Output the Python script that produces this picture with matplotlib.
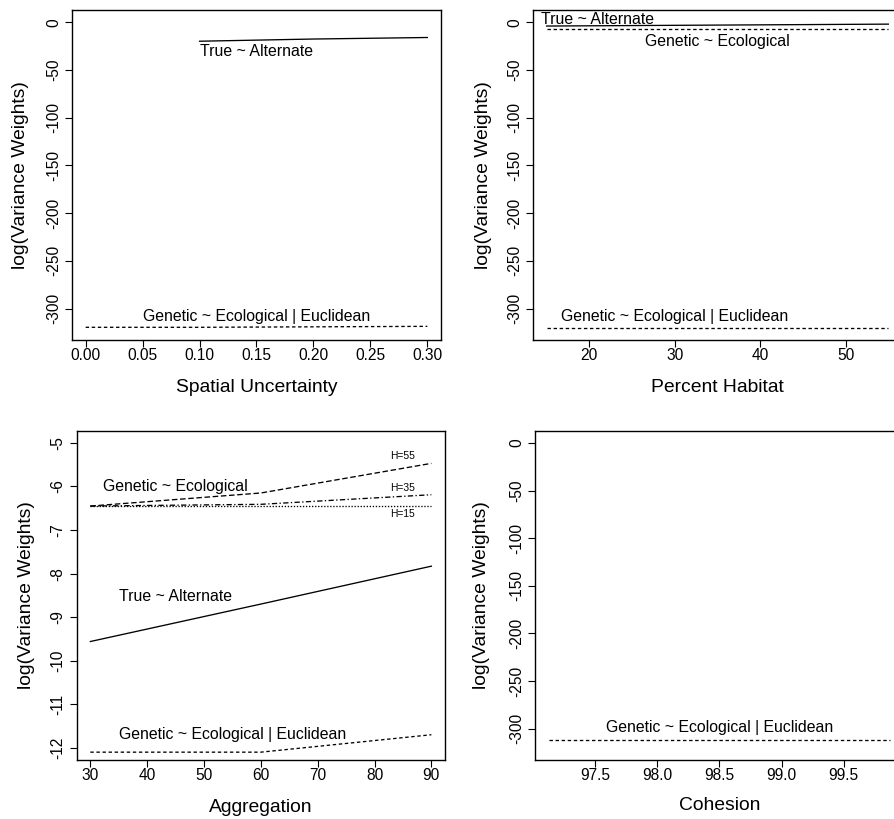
import matplotlib
matplotlib.use("Agg")
import matplotlib.pyplot as plt
import matplotlib.ticker as mticker

plt.rcParams['font.family'] = ['Liberation Sans', 'DejaVu Sans']
plt.rcParams['axes.unicode_minus'] = False

# ---------------- data ----------------
# Panel 1: Spatial Uncertainty
su_x_true = [0.10, 0.20, 0.30]
su_y_true = [-19.9, -17.6, -16.0]
su_x_euc = [0.00, 0.10, 0.20, 0.30]
su_y_euc = [-319.5, -319.5, -319.0, -318.5]

# Panel 2: Percent Habitat
ph_x = [15, 35, 55]
ph_y_true = [-4.0, -3.0, -2.0]
ph_y_gen = [-7.6, -7.6, -7.6]
ph_y_euc = [-320.2, -320.2, -320.2]

# Panel 3: Aggregation
ag_x = [30, 60, 90]
ag_y_h55 = [-6.45, -6.15, -5.47]
ag_y_h35 = [-6.45, -6.41, -6.19]
ag_y_h15 = [-6.46, -6.46, -6.46]
ag_y_true = [-9.56, -8.70, -7.83]
ag_y_euc = [-12.10, -12.10, -11.70]

# Panel 4: Cohesion
co_x = [97.127, 99.875]
co_y_euc = [-311.5, -311.5]

su_ticks = [0.00, 0.05, 0.10, 0.15, 0.20, 0.25, 0.30]
ph_ticks = [20, 30, 40, 50]
ag_ticks = [30, 40, 50, 60, 70, 80, 90]
co_ticks = [97.5, 98.0, 98.5, 99.0, 99.5]
big_yticks = [0, -50, -100, -150, -200, -250, -300]
ag_yticks = [-5, -6, -7, -8, -9, -10, -11, -12]

# ---------------- figure ----------------
W, H = 895, 819
fig = plt.figure(figsize=(W / 100, H / 100), dpi=100)

TICK = 11.2
LAB = 13.9
ANN = 11.4
SMALL = 7.4
LW = 0.95


def add_ax(left, top, w, h):
    ax = fig.add_axes([left / W, 1 - (top + h) / H, w / W, h / H])
    for sp in ax.spines.values():
        sp.set_linewidth(1.0)
        sp.set_color('black')
    ax.tick_params(direction='out', length=5, width=0.8, labelsize=TICK,
                   colors='black')
    ax.tick_params(axis='x', pad=1)
    ax.tick_params(axis='y', pad=3)
    return ax


def style_y(ax):
    for lab in ax.get_yticklabels():
        lab.set_rotation(90)
        lab.set_va('center')
        lab.set_ha('right')


def labels(ax, xlabel, left, top, w, h, xlab_y, ylab_off=51):
    fig.text((left + w / 2) / W, 1 - xlab_y / H, xlabel, ha='center',
             va='center', fontsize=LAB)
    fig.text((left - ylab_off) / W, 1 - (top + h / 2) / H,
             'log(Variance Weights)', ha='center', va='center',
             rotation=90, fontsize=LAB)


dashed = (0, (2.6, 2.0))
longdash = (0, (4.2, 2.0))
dotdash = (0, (4.0, 1.8, 1.0, 1.8))
dotted = (0, (1.0, 1.3))

# Panel 1
l, t, w, h = 72, 10, 369, 330
ax1 = add_ax(l, t, w, h)
ax1.plot(su_x_true, su_y_true, color='black', lw=LW)
ax1.plot(su_x_euc, su_y_euc, color='black', lw=LW, linestyle=dashed)
ax1.set_xlim(-0.012, 0.312)
ax1.set_ylim(-332.8, 12.8)
ax1.set_xticks(su_ticks)
ax1.xaxis.set_major_formatter(mticker.FormatStrFormatter('%.2f'))
ax1.set_yticks(big_yticks)
style_y(ax1)
ax1.text(0.15, -31, 'True ~ Alternate', ha='center', va='center', fontsize=ANN)
ax1.text(0.15, -308, 'Genetic ~ Ecological | Euclidean', ha='center',
         va='center', fontsize=ANN)
labels(ax1, 'Spatial Uncertainty', l, t, w, h, 388)

# Panel 2
l, t, w, h = 533, 10, 369, 330
ax2 = add_ax(l, t, w, h)
ax2.plot(ph_x, ph_y_true, color='black', lw=LW)
ax2.plot(ph_x, ph_y_gen, color='black', lw=LW, linestyle=dashed)
ax2.plot(ph_x, ph_y_euc, color='black', lw=LW, linestyle=dashed)
ax2.set_xlim(13.4, 56.6)
ax2.set_ylim(-332.8, 12.8)
ax2.set_xticks(ph_ticks)
ax2.set_yticks(big_yticks)
style_y(ax2)
ax2.text(21.0, 3, 'True ~ Alternate', ha='center', va='center', fontsize=ANN)
ax2.text(35, -20, 'Genetic ~ Ecological', ha='center', va='center',
         fontsize=ANN)
ax2.text(30, -308, 'Genetic ~ Ecological | Euclidean', ha='center',
         va='center', fontsize=ANN)
labels(ax2, 'Percent Habitat', l, t, w, h, 388, ylab_off=50)

# Panel 3
l, t, w, h = 76.7, 430.7, 368.3, 329.3
ax3 = add_ax(l, t, w, h)
ax3.plot(ag_x, ag_y_h55, color='black', lw=LW, linestyle=longdash)
ax3.plot(ag_x, ag_y_h35, color='black', lw=LW, linestyle=dotdash)
ax3.plot(ag_x, ag_y_h15, color='black', lw=LW, linestyle=dotted)
ax3.plot(ag_x, ag_y_true, color='black', lw=LW)
ax3.plot(ag_x, ag_y_euc, color='black', lw=LW, linestyle=dashed)
ax3.set_xlim(27.6, 92.4)
ax3.set_ylim(-12.28, -4.72)
ax3.set_xticks(ag_ticks)
ax3.set_yticks(ag_yticks)
style_y(ax3)
ax3.text(45, -6.0, 'Genetic ~ Ecological', ha='center', va='center',
         fontsize=ANN)
ax3.text(45, -8.52, 'True ~ Alternate', ha='center', va='center',
         fontsize=ANN)
ax3.text(55, -11.69, 'Genetic ~ Ecological | Euclidean', ha='center',
         va='center', fontsize=ANN)
ax3.text(85, -5.31, 'H=55', ha='center', va='center', fontsize=SMALL)
ax3.text(85, -6.03, 'H=35', ha='center', va='center', fontsize=SMALL)
ax3.text(85, -6.63, 'H=15', ha='center', va='center', fontsize=SMALL)
labels(ax3, 'Aggregation', l, t, w, h, 808, ylab_off=50)

# Panel 4
l, t, w, h = 535, 430.7, 369, 329.3
ax4 = add_ax(l, t, w, h)
ax4.plot(co_x, co_y_euc, color='black', lw=LW, linestyle=dashed)
ax4.set_xlim(97.017, 99.985)
ax4.set_ylim(-332.8, 12.8)
ax4.set_xticks(co_ticks)
ax4.xaxis.set_major_formatter(mticker.FormatStrFormatter('%.1f'))
ax4.set_yticks(big_yticks)
style_y(ax4)
ax4.text(98.5, -298.6, 'Genetic ~ Ecological | Euclidean', ha='center',
         va='center', fontsize=ANN)
labels(ax4, 'Cohesion', l, t, w, h, 805, ylab_off=53)

fig.savefig('out.png', dpi=100)
